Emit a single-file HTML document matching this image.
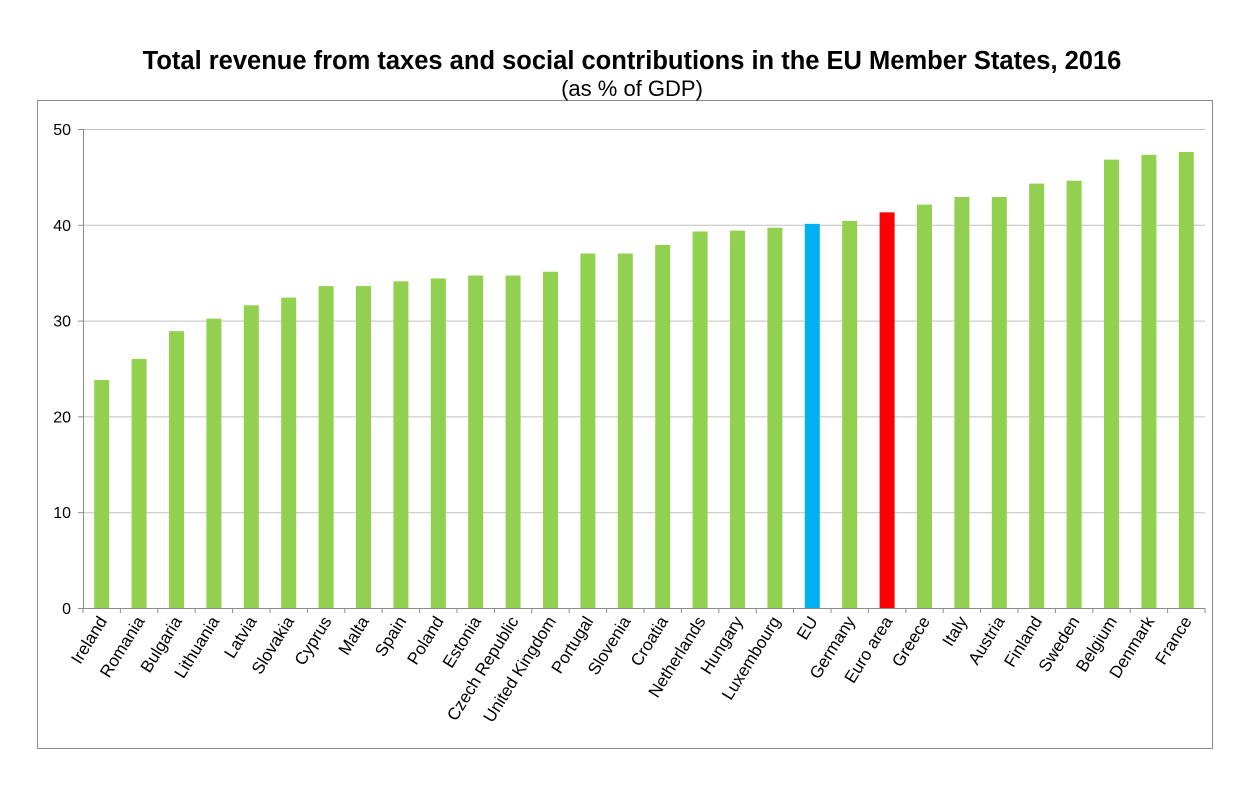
<!DOCTYPE html>
<html><head><meta charset="utf-8"><style>
body{margin:0;background:#fff;}
svg text{font-family:"Liberation Sans",Arial,sans-serif;}
</style></head><body>
<svg width="1247" height="791" xmlns="http://www.w3.org/2000/svg">
<rect x="37.5" y="100.5" width="1175" height="648" fill="#fff" stroke="#8c8c8c"/>
<text x="632" y="69" text-anchor="middle" font-size="25.5" font-weight="bold">Total revenue from taxes and social contributions in the EU Member States, 2016</text>
<text x="632" y="96" text-anchor="middle" font-size="22">(as % of GDP)</text>
<g id="grid"></g><g id="bars"></g><g id="axes"></g>
</svg>
<script>
const categories=["Ireland","Romania","Bulgaria","Lithuania","Latvia","Slovakia","Cyprus","Malta","Spain","Poland","Estonia","Czech Republic","United Kingdom","Portugal","Slovenia","Croatia","Netherlands","Hungary","Luxembourg","EU","Germany","Euro area","Greece","Italy","Austria","Finland","Sweden","Belgium","Denmark","France"];
const values=[23.8,26.0,28.9,30.2,31.6,32.4,33.6,33.6,34.1,34.4,34.7,34.7,35.1,37.0,37.0,37.9,39.3,39.4,39.7,40.1,40.4,41.3,42.1,42.9,42.9,44.3,44.6,46.8,47.3,47.6];
const yTicks=[0,10,20,30,40,50];
const NS="http://www.w3.org/2000/svg";
const X0=83,X1=1205,Y0=608,Y1=129,YMAX=50;
const step=(X1-X0)/categories.length;
const y=v=>Y0-(v/YMAX)*(Y0-Y1);
const xc=i=>X0+step*(i+0.5);
function mk(t,a,p){const e=document.createElementNS(NS,t);for(const k in a)e.setAttribute(k,a[k]);p.appendChild(e);return e;}
const grid=document.getElementById('grid'),bars=document.getElementById('bars'),axes=document.getElementById('axes');
yTicks.forEach(t=>{
 if(t>0){const g=mk('line',{x1:X0,x2:X1,y1:y(t)+0.5,y2:y(t)+0.5,stroke:'#c0c0c0'},grid);
 
 }
 const tl=mk('text',{x:X0-12,y:y(t)+6,'text-anchor':'end','font-size':16},axes);tl.textContent=t;
 
 
 mk('line',{x1:X0-5,x2:X0,y1:y(t)+0.5,y2:y(t)+0.5,stroke:'#8c8c8c'},axes);
});
values.forEach((v,i)=>{
 const c=categories[i]==='EU'?'#00b0f0':categories[i]==='Euro area'?'#ff0000':'#92d050';
 const r=mk('rect',{x:xc(i)-7.5,y:y(v),width:15,height:Y0-y(v),fill:c},bars);
 
 
 const tx=xc(i)+6,ty=621;
 const l=mk('text',{x:tx,y:ty,'text-anchor':'end','font-size':17,transform:`rotate(-58 ${tx} ${ty})`},axes);
 l.textContent=categories[i];
 
 
});
for(let i=0;i<=categories.length;i++){const x=X0+step*i;mk('line',{x1:x,x2:x,y1:Y0,y2:Y0+5,stroke:'#8c8c8c'},axes);}
const xa=mk('line',{x1:X0,x2:X1,y1:Y0+0.5,y2:Y0+0.5,stroke:'#8c8c8c'},axes);


const ya=mk('line',{x1:X0+0.5,x2:X0+0.5,y1:Y1,y2:Y0,stroke:'#8c8c8c'},axes);


</script>
</body></html>
